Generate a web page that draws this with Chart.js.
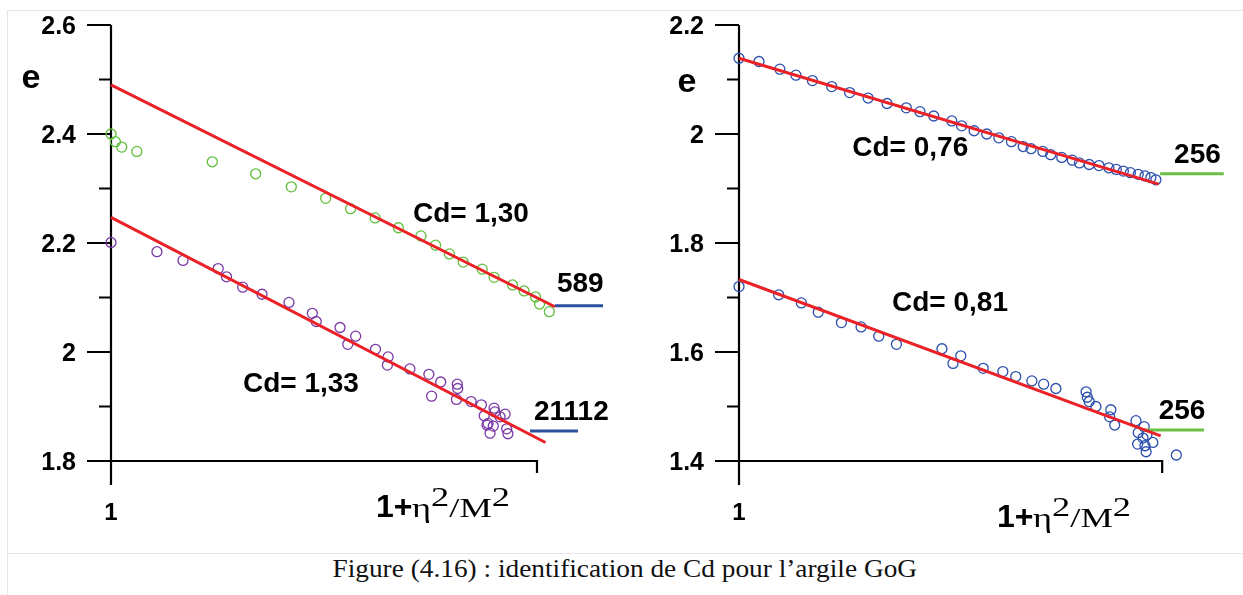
<!DOCTYPE html>
<html>
<head>
<meta charset="utf-8">
<script src="https://cdn.jsdelivr.net/npm/chart.js"></script>
<style>
  html, body { margin: 0; padding: 0; background: #fff; }
  body { width: 1243px; height: 595px; position: relative; overflow: hidden; }
  canvas { position: absolute; top: 0; }
  #leftChart { left: 0; }
  #rightChart { left: 621px; }
  .rule { position: absolute; background: #e6e6e6; }
  #caption {
    position: absolute; top: 556px; white-space: nowrap;
    font: 25.5px "Liberation Serif", "DejaVu Serif", serif; line-height: 1; color: #111;
    transform-origin: center center;
  }
</style>
</head>
<body>
<div class="rule" style="left:7px; top:10px; width:1236px; height:1px;"></div>
<div class="rule" style="left:7px; top:10px; width:1px; height:585px;"></div>
<div class="rule" style="left:7px; top:553px; width:1236px; height:1px;"></div>
<canvas id="leftChart" width="621" height="540"></canvas>
<canvas id="rightChart" width="622" height="540"></canvas>
<div id="caption">Figure (4.16) : identification de Cd pour l’argile GoG</div>
<script>
// ---- data: x = 1+eta^2/M^2 (log axis), e = void ratio ----
const leftGreenX = [1.00, 1.024, 1.060, 1.150, 1.729, 2.186, 2.650, 3.191, 3.651, 4.168, 4.728, 5.342, 5.781, 6.229, 6.711, 7.436, 7.930, 8.764, 9.327, 9.924, 10.14, 10.69];
const leftGreenE = [2.400, 2.386, 2.376, 2.368, 2.349, 2.327, 2.303, 2.282, 2.263, 2.246, 2.228, 2.213, 2.196, 2.180, 2.165, 2.152, 2.137, 2.123, 2.112, 2.101, 2.088, 2.074];

const leftPurpleX = [1.00, 1.282, 1.476, 1.785, 1.867, 2.038, 2.262, 2.617, 2.969, 3.032, 3.448, 3.753, 3.596, 4.177, 4.472, 4.455, 5.031, 5.575, 5.942, 5.657, 6.500, 6.514, 6.472, 7.004, 7.404, 7.517, 7.930, 7.964, 8.417, 8.188, 7.677, 7.896, 7.760, 8.490, 8.546, 7.632];
const leftPurpleE = [2.201, 2.184, 2.168, 2.153, 2.138, 2.119, 2.106, 2.091, 2.071, 2.056, 2.045, 2.029, 2.014, 2.005, 1.991, 1.976, 1.969, 1.959, 1.945, 1.919, 1.941, 1.933, 1.913, 1.909, 1.903, 1.883, 1.897, 1.890, 1.886, 1.881, 1.869, 1.864, 1.851, 1.859, 1.850, 1.866];

const leftFitUpperX = [1, 11.02];
const leftFitUpperE = [2.490, 2.083];
const leftFitLowerX = [1, 10.47];
const leftFitLowerE = [2.247, 1.834];
const leftRef589X = [11.02, 14.29];
const leftRef589E = [2.085, 2.085];
const leftRef21112X = [9.63, 12.48];
const leftRef21112E = [1.855, 1.855];

const rightUpperX = [1.00, 1.115, 1.249, 1.363, 1.491, 1.656, 1.826, 2.019, 2.238, 2.485, 2.677, 2.885, 3.183, 3.358, 3.594, 3.850, 4.112, 4.404, 4.695, 4.900, 5.225, 5.453, 5.790, 6.132, 6.375, 6.722, 7.091, 7.481, 7.790, 8.095, 8.412, 8.779, 9.107, 9.403, 9.665];
const rightUpperE = [2.139, 2.133, 2.119, 2.108, 2.098, 2.087, 2.076, 2.066, 2.056, 2.048, 2.041, 2.033, 2.024, 2.015, 2.006, 2.000, 1.993, 1.986, 1.977, 1.973, 1.968, 1.962, 1.957, 1.952, 1.947, 1.944, 1.942, 1.938, 1.935, 1.932, 1.929, 1.926, 1.923, 1.920, 1.916];

const rightLowerX = [1.00, 1.241, 1.404, 1.539, 1.746, 1.943, 2.139, 2.355, 3.017, 3.343, 3.204, 3.776, 4.202, 4.508, 4.921, 5.247, 5.608, 6.610, 6.653, 6.722, 6.973, 7.562, 7.513, 7.723, 8.670, 9.068, 8.779, 9.201, 9.009, 9.505, 8.750, 9.107, 9.162, 10.80];
const rightLowerE = [1.720, 1.705, 1.690, 1.673, 1.654, 1.646, 1.629, 1.614, 1.606, 1.593, 1.579, 1.570, 1.564, 1.555, 1.547, 1.541, 1.533, 1.527, 1.517, 1.509, 1.500, 1.494, 1.481, 1.466, 1.474, 1.463, 1.452, 1.448, 1.442, 1.434, 1.431, 1.428, 1.417, 1.411];

const rightFitUpperX = [1, 9.81];
const rightFitUpperE = [2.139, 1.908];
const rightFitLowerX = [1, 9.92];
const rightFitLowerE = [1.733, 1.446];
const rightRefUpperX = [9.89, 13.98];
const rightRefUpperE = [1.927, 1.927];
const rightRefLowerX = [9.02, 12.55];
const rightRefLowerE = [1.457, 1.457];

// tick labels
const leftMajor = [1.8, 2.0, 2.2, 2.4, 2.6];
const leftMajorLabels = ['1.8', '2', '2.2', '2.4', '2.6'];
const leftMinor = [1.9, 2.1, 2.3, 2.5];
const rightMajor = [1.4, 1.6, 1.8, 2.0, 2.2];
const rightMajorLabels = ['1.4', '1.6', '1.8', '2', '2.2'];
const rightMinor = [1.5, 1.7, 1.9, 2.1];

// the drawn x axis runs from 1 to 10, the scale goes a bit further so outlying marks still show
const xAxisEnd = 10;
const xScaleMax = 15;

// annotations (placed in data units)
const leftNoteText = ['Cd= 1,30', 'Cd= 1,33', '589', '21112'];
const leftNoteX = [5.116, 2.041, 11.14, 9.839];
const leftNoteE = [2.257, 1.945, 2.1285, 1.8936];
const rightNoteText = ['Cd= 0,76', '256', 'Cd= 0,81', '256'];
const rightNoteX = [1.852, 10.67, 2.299, 9.81];
const rightNoteE = [1.978, 1.965, 1.6936, 1.4954];

const RED = '#ea2228';
const SANS = '"Liberation Sans", Arial, sans-serif';
const SERIF = '"Liberation Serif", "Times New Roman", serif';

function pts(xs, ys) {
    return xs.map((x, i) => ({ x: x, y: ys[i] }));
}

function circles(xs, ys, color) {
    return {
        type: 'scatter', data: pts(xs, ys), order: 2, clip: false,
        pointStyle: 'circle', pointRadius: 5, backgroundColor: 'rgba(0,0,0,0)',
        borderColor: color, borderWidth: 1.3
    };
}

function segment(xs, ys, color, order) {
    return {
        type: 'line', data: pts(xs, ys), order: order, clip: false,
        borderColor: color, borderWidth: 3, pointRadius: 0, fill: false, tension: 0
    };
}

// draws "1+η²/M²" starting at x, baseline y
function drawXTitle(ctx, x, y) {
    ctx.textAlign = 'left';
    ctx.textBaseline = 'alphabetic';
    ctx.font = 'bold 32px ' + SANS;
    ctx.fillText('1+', x, y);
    const start = x + 36;
    const pieces = [['η', 0], ['2', -11], ['/M', 0], ['2', -11]];
    ctx.font = '28px ' + SERIF;
    let w = 0;
    pieces.forEach(p => { w += ctx.measureText(p[0]).width; });
    const k = 98 / w;
    ctx.save();
    ctx.translate(start, y);
    ctx.scale(k, 1);
    let cx = 0;
    pieces.forEach(p => {
        ctx.fillText(p[0], cx, p[1]);
        cx += ctx.measureText(p[0]).width;
    });
    ctx.restore();
}

const panelAxes = {
    id: 'panelAxes',
    beforeDatasetsDraw(chart, args, o) {
        const { ctx, scales: { x, y } } = chart;
        const x0 = x.getPixelForValue(1);
        const x1 = x.getPixelForValue(xAxisEnd);
        const yTop = y.getPixelForValue(o.yMax);
        const yb = y.getPixelForValue(o.yMin);
        ctx.save();
        ctx.strokeStyle = '#000';
        ctx.lineWidth = 2.2;
        ctx.lineJoin = 'miter';
        ctx.beginPath();
        ctx.moveTo(x0, yTop);
        ctx.lineTo(x0, yb + 24);
        ctx.moveTo(x0, yb);
        ctx.lineTo(x1, yb);
        ctx.lineTo(x1, yb + 12);
        o.major.forEach(v => {
            const py = y.getPixelForValue(v);
            ctx.moveTo(x0 - 24, py);
            ctx.lineTo(x0, py);
        });
        o.minor.forEach(v => {
            const py = y.getPixelForValue(v);
            ctx.moveTo(x0 - 12, py);
            ctx.lineTo(x0, py);
        });
        ctx.stroke();

        ctx.fillStyle = '#000';
        ctx.font = 'bold 25px ' + SANS;
        ctx.textAlign = 'right';
        ctx.textBaseline = 'alphabetic';
        o.major.forEach((v, i) => {
            ctx.fillText(o.labels[i], x0 - 35, y.getPixelForValue(v) + 9);
        });
        ctx.textAlign = 'center';
        ctx.font = 'bold 24px ' + SANS;
        ctx.fillText('1', x0, yb + 59);
        ctx.font = 'bold 34px ' + SANS;
        ctx.fillText('e', x0 - o.eDx, yTop + o.eDy);
        drawXTitle(ctx, x0 + o.titleDx, yb + o.titleDy);
        ctx.restore();
    },
    afterDatasetsDraw(chart, args, o) {
        const { ctx, scales: { x, y } } = chart;
        ctx.save();
        ctx.fillStyle = '#000';
        ctx.font = 'bold 28px ' + SANS;
        ctx.textAlign = 'left';
        ctx.textBaseline = 'alphabetic';
        o.notes.forEach((t, i) => {
            ctx.fillText(t, x.getPixelForValue(o.noteX[i]), y.getPixelForValue(o.noteE[i]) + 10);
        });
        ctx.restore();
    }
};

function makePanel(id, datasets, yMin, yMax, pad, axesOpts) {
    return new Chart(document.getElementById(id), {
        data: { datasets: datasets },
        options: {
            responsive: false,
            animation: false,
            devicePixelRatio: 1,
            layout: { padding: pad },
            plugins: { legend: { display: false }, tooltip: { enabled: false }, panelAxes: axesOpts },
            scales: {
                x: { type: 'logarithmic', min: 1, max: xScaleMax, display: false },
                y: { type: 'linear', min: yMin, max: yMax, display: false }
            }
        },
        plugins: [panelAxes]
    });
}

// 1..10 spans 426 px, so 1..15 spans about 501 px
makePanel('leftChart', [
    segment(leftFitUpperX, leftFitUpperE, RED, 0),
    segment(leftFitLowerX, leftFitLowerE, RED, 0),
    segment(leftRef589X, leftRef589E, '#2d4f9f', 1),
    segment(leftRef21112X, leftRef21112E, '#2d4f9f', 1),
    circles(leftGreenX, leftGreenE, '#5fbf3a'),
    circles(leftPurpleX, leftPurpleE, '#7a3aa6')
], 1.8, 2.6, { left: 111, right: 9, top: 25, bottom: 79 }, {
    yMin: 1.8, yMax: 2.6, major: leftMajor, labels: leftMajorLabels, minor: leftMinor,
    eDx: 80, eDy: 63, titleDx: 265, titleDy: 56,
    notes: leftNoteText, noteX: leftNoteX, noteE: leftNoteE
});

makePanel('rightChart', [
    segment(rightFitUpperX, rightFitUpperE, RED, 0),
    segment(rightFitLowerX, rightFitLowerE, RED, 0),
    segment(rightRefUpperX, rightRefUpperE, '#6cbd45', 1),
    segment(rightRefLowerX, rightRefLowerE, '#6cbd45', 1),
    circles(rightUpperX, rightUpperE, '#2c4fae'),
    circles(rightLowerX, rightLowerE, '#2c4fae')
], 1.4, 2.2, { left: 118, right: 3, top: 25, bottom: 79 }, {
    yMin: 1.4, yMax: 2.2, major: rightMajor, labels: rightMajorLabels, minor: rightMinor,
    eDx: 52, eDy: 67, titleDx: 258, titleDy: 66,
    notes: rightNoteText, noteX: rightNoteX, noteE: rightNoteE
});

// caption: centre it and fit it to the reference width
const cap = document.getElementById('caption');
const capW = cap.offsetWidth;
cap.style.left = (625 - capW / 2) + 'px';
cap.style.transform = 'scaleX(' + (585 / capW) + ')';
</script>
</body>
</html>
